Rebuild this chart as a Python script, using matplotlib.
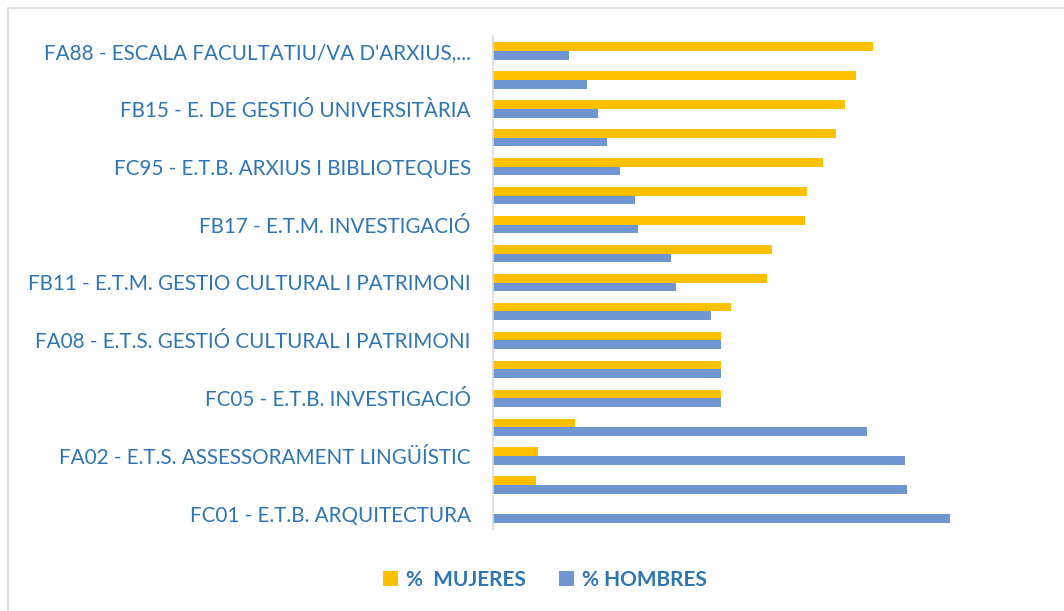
import matplotlib.pyplot as plt
from matplotlib.patches import Rectangle
import numpy as np

# categories from top to bottom (hidden labels are not readable in the source)
categorias = [
    "FA88 - ESCALA FACULTATIU/VA D'ARXIUS,...", "",
    "FB15 - E. DE GESTIÓ UNIVERSITÀRIA", "",
    "FC95 - E.T.B. ARXIUS I BIBLIOTEQUES", "",
    "FB17 - E.T.M. INVESTIGACIÓ", "",
    "FB11 - E.T.M. GESTIO CULTURAL I PATRIMONI", "",
    "FA08 - E.T.S. GESTIÓ CULTURAL I PATRIMONI", "",
    "FC05 - E.T.B. INVESTIGACIÓ", "",
    "FA02 - E.T.S. ASSESSORAMENT LINGÜÍSTIC", "",
    "FC01 - E.T.B. ARQUITECTURA",
]
mujeres = [83.3, 79.5, 77.0, 75.0, 72.2, 68.8, 68.3, 61.1, 60.0, 52.2,
           50.0, 50.0, 50.0, 18.0, 9.8, 9.4, 0.0]
hombres = [16.7, 20.5, 23.0, 25.0, 27.8, 31.2, 31.7, 38.9, 40.0, 47.8,
           50.0, 50.0, 50.0, 82.0, 90.2, 90.6, 100.0]

c_muj = '#FFC000'
c_hom = '#7096D2'
c_txt = '#2E75B6'

plt.rcParams['font.family'] = ['Lato', 'DejaVu Sans']

fig = plt.figure(figsize=(10.64, 6.11), dpi=100)
ax = fig.add_axes([493 / 1064, 1 - 528.5 / 611, (1041 - 493) / 1064, (528.5 - 36.5) / 611])

n = len(categorias)
y = np.arange(n)[::-1]
h = 0.3
ax.barh(y + h / 2, mujeres, height=h, color=c_muj, label='%  MUJERES')
ax.barh(y - h / 2, hombres, height=h, color=c_hom, label='% HOMBRES')

ax.set_xlim(0, 120)
ax.set_ylim(-0.5, n - 0.5)
ax.set_yticks(y)
ax.set_yticklabels(categorias, fontsize=14.9, color=c_txt)
ax.tick_params(axis='y', length=0, pad=16)
ax.set_xticks([])
for s in ['top', 'right', 'bottom']:
    ax.spines[s].set_visible(False)
ax.spines['left'].set_color('#D9D9D9')
ax.spines['left'].set_linewidth(1.2)

leg = fig.legend(loc='center', bbox_to_anchor=(545 / 1064, 1 - 580 / 611), ncol=2,
                 frameon=False, handlelength=0.7, handleheight=0.7, handletextpad=0.4,
                 columnspacing=1.6, prop={'weight': 'bold', 'size': 15})
for t in leg.get_texts():
    t.set_color(c_txt)

# chart area border
fig.patches.append(Rectangle((8 / 1064, -0.05), 1.1, 1 - 8 / 611 + 0.05,
                             transform=fig.transFigure, fill=False,
                             edgecolor='#D9D9D9', linewidth=1.2))

fig.savefig('out.png', dpi=100)
